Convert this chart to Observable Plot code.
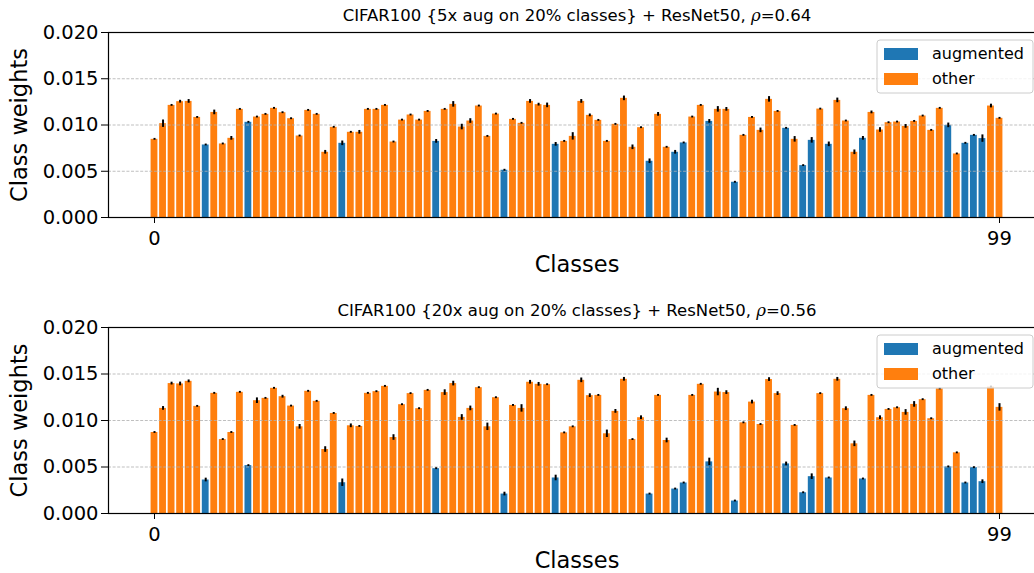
<!DOCTYPE html>
<html><head><meta charset="utf-8">
<script src="https://cdn.jsdelivr.net/npm/d3@7"></script>
<script src="https://cdn.jsdelivr.net/npm/@observablehq/plot@0.6"></script>
<style>
html,body{margin:0;padding:0;background:#fff;overflow:hidden;}
#chart svg{display:block;overflow:hidden;}
</style></head><body><div id="chart"></div>
<script>
const classCount = 100;
const xTicks = [0, 99];
const yTicks = [0, 0.005, 0.010, 0.015, 0.020];
const gridTicks = [0.005, 0.010, 0.015];
const groups = ["augmented", "other"];
const colors = ["#1f77b4", "#ff7f0e"];
const augmented = [6, 11, 22, 33, 41, 47, 58, 61, 62, 65, 68, 74, 76, 77, 79, 83, 93, 95, 96, 97];

const title5x = "CIFAR100 {5x aug on 20% classes} + ResNet50, ρ=0.64";
const title20x = "CIFAR100 {20x aug on 20% classes} + ResNet50, ρ=0.56";

const weights5x = [
  0.00845, 0.01014, 0.01212, 0.01252, 0.01255, 0.01082, 0.00784, 0.01136, 0.00795, 0.00856,
  0.01169, 0.01029, 0.01086, 0.01115, 0.01180, 0.01133, 0.01068, 0.00881, 0.01158, 0.01115,
  0.00705, 0.00975, 0.00802, 0.00921, 0.00921, 0.01169, 0.01169, 0.01212, 0.00816, 0.01053,
  0.01108, 0.01053, 0.01147, 0.00823, 0.01169, 0.01223, 0.00978, 0.01043, 0.01205, 0.00877,
  0.01118, 0.00511, 0.01061, 0.01018, 0.01255, 0.01220, 0.01212, 0.00791, 0.00823, 0.00877,
  0.01255, 0.01104, 0.01050, 0.00823, 0.01007, 0.01288, 0.00759, 0.00971, 0.00608, 0.01115,
  0.00759, 0.00705, 0.00806, 0.01086, 0.01212, 0.01039, 0.01169, 0.01169, 0.00381, 0.00888,
  0.01082, 0.00942, 0.01277, 0.01147, 0.00964, 0.00845, 0.00561, 0.00834, 0.01172, 0.00791,
  0.01266, 0.01043, 0.00705, 0.00856, 0.01136, 0.00946, 0.01025, 0.01032, 0.00985, 0.01039,
  0.01097, 0.00942, 0.01180, 0.00996, 0.00687, 0.00802, 0.00888, 0.00853, 0.01205, 0.01072
];
const err5x = [
  0.0001, 0.0004, 0.0001, 0.00015, 0.0002, 0.0001, 0.0001, 0.00025, 0.0001, 0.0002,
  0.0001, 0.0001, 0.0001, 0.0001, 0.0001, 0.0001, 0.0001, 0.0001, 0.0001, 0.0001,
  0.0002, 0.0001, 0.00025, 0.0001, 0.0002, 0.0001, 0.0001, 0.0001, 0.0001, 0.0001,
  0.0001, 0.0001, 0.0001, 0.0002, 0.0001, 0.0003, 0.0003, 0.00025, 0.0001, 0.0001,
  0.0001, 0.0001, 0.0001, 0.0001, 0.0002, 0.00015, 0.00025, 0.0002, 0.0001, 0.0004,
  0.0002, 0.00015, 0.0001, 0.0001, 0.0001, 0.00025, 0.00025, 0.0001, 0.00025, 0.0002,
  0.0001, 0.0002, 0.0001, 0.0001, 0.0001, 0.0002, 0.0003, 0.0002, 0.0001, 0.0001,
  0.0001, 0.00025, 0.0003, 0.0001, 0.0001, 0.0003, 0.0001, 0.0003, 0.0001, 0.00025,
  0.00025, 0.0001, 0.00025, 0.0002, 0.00015, 0.00025, 0.0001, 0.0001, 0.0002, 0.0001,
  0.0001, 0.0001, 0.0001, 0.00025, 0.0001, 0.0001, 0.0001, 0.0004, 0.0002, 0.0001
];
const weights20x = [
  0.00871, 0.01130, 0.01397, 0.01393, 0.01421, 0.01152, 0.00360, 0.01292, 0.00795, 0.00871,
  0.01303, 0.00515, 0.01213, 0.01238, 0.01346, 0.01256, 0.01155, 0.00932, 0.01314, 0.01206,
  0.00688, 0.01076, 0.00331, 0.00943, 0.00936, 0.01292, 0.01310, 0.01367, 0.00817, 0.01170,
  0.01289, 0.01127, 0.01324, 0.00482, 0.01300, 0.01397, 0.01033, 0.01130, 0.01353, 0.00932,
  0.01245, 0.00209, 0.01162, 0.01130, 0.01411, 0.01389, 0.01385, 0.00382, 0.00867, 0.00932,
  0.01432, 0.01267, 0.01270, 0.00857, 0.01098, 0.01443, 0.00795, 0.01030, 0.00209, 0.01270,
  0.00785, 0.00263, 0.00328, 0.01270, 0.01389, 0.00555, 0.01306, 0.01300, 0.00134, 0.00975,
  0.01198, 0.00957, 0.01440, 0.01289, 0.00533, 0.00947, 0.00223, 0.00396, 0.01289, 0.00382,
  0.01443, 0.01127, 0.00749, 0.00371, 0.01270, 0.01030, 0.01119, 0.01137, 0.01087, 0.01173,
  0.01224, 0.01019, 0.01340, 0.00501, 0.00652, 0.00328, 0.00493, 0.00342, 0.01360, 0.01141
];
const err20x = [
  0.0001, 0.0002, 0.00015, 0.0002, 0.00015, 0.0001, 0.0002, 0.0001, 0.0001, 0.0001,
  0.0001, 0.0001, 0.0003, 0.0001, 0.0001, 0.00015, 0.0001, 0.00025, 0.0001, 0.0001,
  0.0003, 0.0001, 0.0004, 0.0002, 0.0001, 0.0001, 0.0001, 0.0001, 0.0003, 0.0001,
  0.0001, 0.0001, 0.0001, 0.0001, 0.0003, 0.00025, 0.0003, 0.00025, 0.0001, 0.0004,
  0.0001, 0.0002, 0.0001, 0.0004, 0.0002, 0.0002, 0.0001, 0.0003, 0.0001, 0.0001,
  0.00025, 0.0002, 0.0001, 0.0004, 0.0002, 0.0002, 0.0001, 0.0002, 0.0001, 0.0001,
  0.00025, 0.0001, 0.0001, 0.0001, 0.0001, 0.0004, 0.0004, 0.0002, 0.0001, 0.0001,
  0.0002, 0.0001, 0.0002, 0.0002, 0.0002, 0.0001, 0.0001, 0.0003, 0.0001, 0.0001,
  0.0002, 0.0002, 0.0003, 0.0001, 0.0001, 0.0002, 0.0001, 0.0001, 0.0003, 0.0003,
  0.0001, 0.0001, 0.0001, 0.0001, 0.0001, 0.0001, 0.0001, 0.0002, 0.0001, 0.0004
];

function rows(values, errs) {
  return values.map((v, i) => ({
    i, v, e: errs[i],
    g: augmented.includes(i) ? groups[0] : groups[1]
  }));
}

function panel(values, errs, title, height, marginBottom) {
  const data = rows(values, errs);
  const svg = Plot.plot({
    width: 1034,
    height,
    marginTop: 32,
    marginBottom,
    marginLeft: 108,
    marginRight: -11,
    style: {fontFamily: "DejaVu Sans", fontSize: "19.5px", color: "black", background: "white", overflow: "hidden"},
    x: {domain: [-5.39, 104.39], ticks: xTicks, tickSize: 6, tickPadding: 8, label: null, tickFormat: d => String(d)},
    y: {domain: [0, 0.02], ticks: yTicks, tickSize: 7, tickPadding: 3, tickFormat: d3.format(".3f"), label: null},
    color: {domain: groups, range: colors},
    marks: [
      Plot.rectY(data, {x1: d => d.i - 0.4, x2: d => d.i + 0.4, y1: 0, y2: "v", fill: "g"}),
      Plot.ruleY(gridTicks, {stroke: "#b0b0b0", strokeOpacity: 0.9, strokeDasharray: "3,1.6", strokeWidth: 0.9}),
      Plot.ruleX(data, {x: "i", y1: d => d.v - d.e, y2: d => d.v + d.e, stroke: "black", strokeWidth: 2}),
      Plot.frame({stroke: "black", strokeWidth: 1.2}),
      Plot.text(["Class weights"], {frameAnchor: "left", rotate: -90, dx: -89, fontSize: 22.5, textAnchor: "middle", lineAnchor: "middle"}),
      Plot.text(["Classes"], {frameAnchor: "bottom", dy: 47, fontSize: 22.5, lineAnchor: "middle"}),
      Plot.text([title], {frameAnchor: "top", dy: -17, fontSize: 16.5, lineAnchor: "middle"})
    ]
  });
  // italic rho in the title
  svg.querySelectorAll("text").forEach(t => {
    const s = t.textContent;
    if (s === title && s.includes("ρ")) {
      const [a, b] = s.split("ρ");
      t.textContent = "";
      const sel = d3.select(t);
      sel.append("tspan").text(a);
      sel.append("tspan").attr("font-style", "italic").attr("font-family", "DejaVu Serif").text("ρ");
      sel.append("tspan").text(b);
    }
  });
  // legend
  const lg = d3.select(svg).append("g").attr("font-family", "DejaVu Sans").attr("font-size", 16).attr("text-anchor", "start");
  lg.append("rect").attr("x", 877).attr("y", 40).attr("width", 156).attr("height", 53).attr("rx", 3)
    .attr("fill", "white").attr("fill-opacity", 0.8).attr("stroke", "#cccccc").attr("stroke-width", 1);
  groups.forEach((g, k) => {
    lg.append("rect").attr("x", 884).attr("y", 48 + k * 25).attr("width", 34).attr("height", 12).attr("fill", colors[k]);
    lg.append("text").attr("x", 932).attr("y", 59 + k * 25).attr("fill", "black").attr("text-anchor", "start").text(g);
  });
  return svg;
}

const root = document.getElementById("chart");
root.appendChild(panel(weights5x, err5x, title5x, 295, 78));
root.appendChild(panel(weights20x, err20x, title20x, 278, 60));
</script></body></html>
